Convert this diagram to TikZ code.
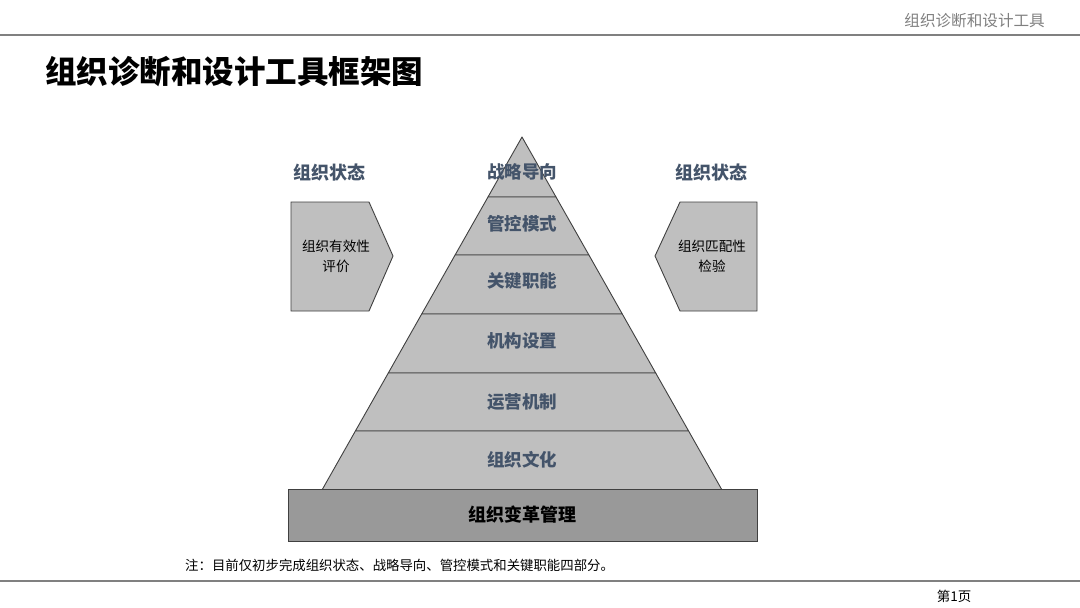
\documentclass[tikz,border=0pt]{standalone}
\usepackage{fontspec}
\setmainfont{Noto Sans CJK SC}
\newfontfamily\cjk{Noto Sans CJK SC}
\definecolor{layerfill}{HTML}{BFBFBF}
\definecolor{basefill}{HTML}{999999}
\definecolor{edge}{HTML}{404040}
\definecolor{labelblue}{HTML}{44546A}
\definecolor{rulegray}{HTML}{808080}
\tikzset{
  layer/.style={fill=layerfill, draw=edge, line width=0.9pt, line join=round},
  layertext/.style={text=labelblue, font=\cjk\bfseries\fontsize{17.5}{20}\selectfont, inner sep=0pt},
  sidelabel/.style={text=labelblue, font=\cjk\bfseries\fontsize{18}{20}\selectfont, inner sep=0pt},
  sidetext/.style={text=black, font=\cjk\fontsize{13.6}{20}\selectfont, align=center, inner sep=0pt},
  sideshape/.style={fill=layerfill, draw=edge, line width=0.9pt, line join=miter},
  rule/.style={draw=rulegray, line width=1.8pt},
}
\begin{document}
\begin{tikzpicture}[x=1pt,y=-1pt]
\useasboundingbox[fill=white] (0,0) rectangle (1080,608);
% header
\coordinate (hl) at (0,35);
\coordinate (hr) at (1080,35);
\draw[rule] (hl) -- (hr);
\node[anchor=east, text=rulegray, font=\cjk\fontsize{15.6}{17}\selectfont, inner sep=0pt] (hdr) at (1045,21) {组织诊断和设计工具};
\node[anchor=west, text=black, font=\cjk\bfseries\fontsize{31.5}{34}\selectfont, inner sep=0pt] (title) at (45,72) {组织诊断和设计工具框架图};
% pyramid layers
\path[layer] (522,137) -- (556,197) -- (488,197) -- cycle;
\path[layer] (488,197) -- (556,197) -- (588.9,255) -- (455.1,255) -- cycle;
\path[layer] (455.1,255) -- (588.9,255) -- (622.3,314) -- (421.7,314) -- cycle;
\path[layer] (421.7,314) -- (622.3,314) -- (655.7,373) -- (388.3,373) -- cycle;
\path[layer] (388.3,373) -- (655.7,373) -- (688.6,431) -- (355.4,431) -- cycle;
\path[layer] (355.4,431) -- (688.6,431) -- (722,490) -- (322,490) -- cycle;
\node[layertext] (l1) at (522,172) {战略导向};
\node[layertext] (l2) at (522,224) {管控模式};
\node[layertext] (l3) at (522,281) {关键职能};
\node[layertext] (l4) at (522,341) {机构设置};
\node[layertext] (l5) at (522,402) {运营机制};
\node[layertext] (l6) at (522,460) {组织文化};
% base
\node[draw=edge, fill=basefill, line width=0.9pt, minimum width=469pt, minimum height=52pt, inner sep=0pt,
      text=black, font=\cjk\bfseries\fontsize{18}{20}\selectfont] (base) at (522.5,515) {组织变革管理};
% left side
\node[sidelabel] (ll) at (329,173) {组织状态};
\path[sideshape] (291,202) -- (369,202) -- (393,256) -- (369,311) -- (291,311) -- cycle;
\node[sidetext] (lt) at (336,256) {组织有效性\\评价};
% right side
\node[sidelabel] (rl) at (711,173) {组织状态};
\path[sideshape] (757,202) -- (680,202) -- (655,256) -- (680,311) -- (757,311) -- cycle;
\node[sidetext] (rt) at (712,256) {组织匹配性\\检验};
% note
\node[anchor=west, text=black, font=\cjk\fontsize{13.4}{15}\selectfont, inner sep=0pt] (note) at (185,565) {注：目前仅初步完成组织状态、战略导向、管控模式和关键职能四部分。};
% footer
\coordinate (fl) at (0,581);
\coordinate (fr) at (1080,581);
\draw[rule] (fl) -- (fr);
\node[anchor=center, text=black, font=\cjk\fontsize{13.5}{15}\selectfont, inner sep=0pt] (page) at (954,596) {第1页};
\end{tikzpicture}
\end{document}
